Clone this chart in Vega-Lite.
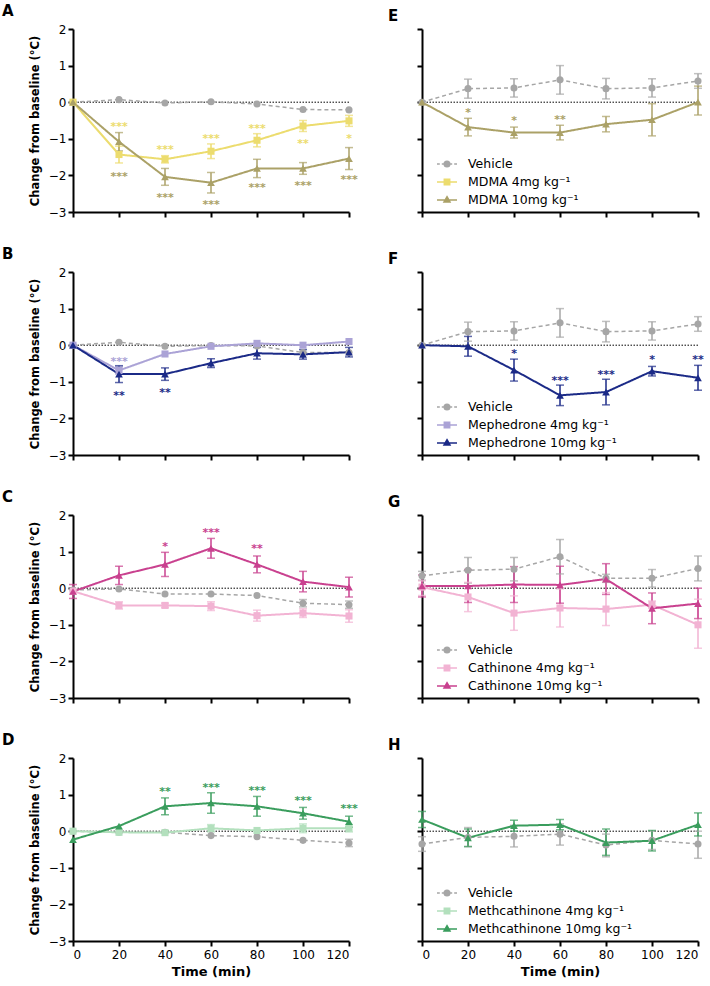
{
"$schema": "https://vega.github.io/schema/vega-lite/v6.json",
"background": "white",
"padding": {"left": 2, "top": 4, "right": 2, "bottom": 2},
"columns": 2,
"spacing": {"row": 29, "column": 30},
"resolve": {"scale": {"fill": "independent", "stroke": "independent", "shape": "independent"}},
"datasets": {"d": [
{"p":"A","s":"Vehicle","t":0,"m":0},{"p":"A","s":"Vehicle","t":20,"m":0.07},{"p":"A","s":"Vehicle","t":40,"m":-0.02},{"p":"A","s":"Vehicle","t":60,"m":0.01},{"p":"A","s":"Vehicle","t":80,"m":-0.05},{"p":"A","s":"Vehicle","t":100,"m":-0.2},{"p":"A","s":"Vehicle","t":120,"m":-0.21},
{"p":"A","s":"MDMA 4mg kg\u207b\u00b9","t":0,"m":0},
{"p":"A","s":"MDMA 4mg kg\u207b\u00b9","t":20,"m":-1.43,"lo":-1.66,"hi":-1.2,"st":"***","sy":-0.6},
{"p":"A","s":"MDMA 4mg kg\u207b\u00b9","t":40,"m":-1.56,"lo":-1.66,"hi":-1.46,"st":"***","sy":-1.22},
{"p":"A","s":"MDMA 4mg kg\u207b\u00b9","t":60,"m":-1.34,"lo":-1.54,"hi":-1.14,"st":"***","sy":-0.93},
{"p":"A","s":"MDMA 4mg kg\u207b\u00b9","t":80,"m":-1.04,"lo":-1.22,"hi":-0.86,"st":"***","sy":-0.65},
{"p":"A","s":"MDMA 4mg kg\u207b\u00b9","t":100,"m":-0.65,"lo":-0.8,"hi":-0.5,"st":"**","sy":-1.06},
{"p":"A","s":"MDMA 4mg kg\u207b\u00b9","t":120,"m":-0.51,"lo":-0.66,"hi":-0.36,"st":"*","sy":-0.93},
{"p":"A","s":"MDMA 10mg kg\u207b\u00b9","t":0,"m":0},
{"p":"A","s":"MDMA 10mg kg\u207b\u00b9","t":20,"m":-1.08,"lo":-1.33,"hi":-0.83,"st":"***","sy":-1.95},
{"p":"A","s":"MDMA 10mg kg\u207b\u00b9","t":40,"m":-2.04,"lo":-2.27,"hi":-1.81,"st":"***","sy":-2.54},
{"p":"A","s":"MDMA 10mg kg\u207b\u00b9","t":60,"m":-2.2,"lo":-2.48,"hi":-1.92,"st":"***","sy":-2.73},
{"p":"A","s":"MDMA 10mg kg\u207b\u00b9","t":80,"m":-1.81,"lo":-2.06,"hi":-1.56,"st":"***","sy":-2.27},
{"p":"A","s":"MDMA 10mg kg\u207b\u00b9","t":100,"m":-1.81,"lo":-1.97,"hi":-1.65,"st":"***","sy":-2.22},
{"p":"A","s":"MDMA 10mg kg\u207b\u00b9","t":120,"m":-1.54,"lo":-1.84,"hi":-1.24,"st":"***","sy":-2.05},
{"p":"E","s":"Vehicle","t":0,"m":0},
{"p":"E","s":"Vehicle","t":20,"m":0.37,"lo":0.11,"hi":0.63},
{"p":"E","s":"Vehicle","t":40,"m":0.39,"lo":0.14,"hi":0.64},
{"p":"E","s":"Vehicle","t":60,"m":0.61,"lo":0.22,"hi":1.0},
{"p":"E","s":"Vehicle","t":80,"m":0.37,"lo":0.09,"hi":0.65},
{"p":"E","s":"Vehicle","t":100,"m":0.39,"lo":0.14,"hi":0.64},
{"p":"E","s":"Vehicle","t":120,"m":0.58,"lo":0.38,"hi":0.78},
{"p":"E","s":"MDMA 10mg kg\u207b\u00b9","t":0,"m":0},
{"p":"E","s":"MDMA 10mg kg\u207b\u00b9","t":20,"m":-0.68,"lo":-0.92,"hi":-0.44,"st":"*","sy":-0.21},
{"p":"E","s":"MDMA 10mg kg\u207b\u00b9","t":40,"m":-0.83,"lo":-0.98,"hi":-0.68,"st":"*","sy":-0.44},
{"p":"E","s":"MDMA 10mg kg\u207b\u00b9","t":60,"m":-0.83,"lo":-1.03,"hi":-0.63,"st":"**","sy":-0.41},
{"p":"E","s":"MDMA 10mg kg\u207b\u00b9","t":80,"m":-0.6,"lo":-0.81,"hi":-0.39},
{"p":"E","s":"MDMA 10mg kg\u207b\u00b9","t":100,"m":-0.48,"lo":-0.92,"hi":-0.04},
{"p":"E","s":"MDMA 10mg kg\u207b\u00b9","t":120,"m":0,"lo":-0.35,"hi":0.44},
{"p":"B","s":"Vehicle","t":0,"m":0},{"p":"B","s":"Vehicle","t":20,"m":0.08},{"p":"B","s":"Vehicle","t":40,"m":-0.03},{"p":"B","s":"Vehicle","t":60,"m":-0.01},{"p":"B","s":"Vehicle","t":80,"m":-0.02},{"p":"B","s":"Vehicle","t":100,"m":-0.2},{"p":"B","s":"Vehicle","t":120,"m":-0.2},
{"p":"B","s":"Mephedrone 4mg kg\u207b\u00b9","t":0,"m":0},
{"p":"B","s":"Mephedrone 4mg kg\u207b\u00b9","t":20,"m":-0.69,"lo":-0.79,"hi":-0.59,"st":"***","sy":-0.37},
{"p":"B","s":"Mephedrone 4mg kg\u207b\u00b9","t":40,"m":-0.24},
{"p":"B","s":"Mephedrone 4mg kg\u207b\u00b9","t":60,"m":-0.03},
{"p":"B","s":"Mephedrone 4mg kg\u207b\u00b9","t":80,"m":0.05},
{"p":"B","s":"Mephedrone 4mg kg\u207b\u00b9","t":100,"m":0},
{"p":"B","s":"Mephedrone 4mg kg\u207b\u00b9","t":120,"m":0.1},
{"p":"B","s":"Mephedrone 10mg kg\u207b\u00b9","t":0,"m":0},
{"p":"B","s":"Mephedrone 10mg kg\u207b\u00b9","t":20,"m":-0.79,"lo":-1.02,"hi":-0.56,"st":"**","sy":-1.3},
{"p":"B","s":"Mephedrone 10mg kg\u207b\u00b9","t":40,"m":-0.79,"lo":-0.96,"hi":-0.62,"st":"**","sy":-1.22},
{"p":"B","s":"Mephedrone 10mg kg\u207b\u00b9","t":60,"m":-0.49,"lo":-0.61,"hi":-0.37},
{"p":"B","s":"Mephedrone 10mg kg\u207b\u00b9","t":80,"m":-0.22,"lo":-0.38,"hi":-0.06},
{"p":"B","s":"Mephedrone 10mg kg\u207b\u00b9","t":100,"m":-0.25,"lo":-0.38,"hi":-0.12},
{"p":"B","s":"Mephedrone 10mg kg\u207b\u00b9","t":120,"m":-0.19,"lo":-0.32,"hi":-0.06},
{"p":"F","s":"Vehicle","t":0,"m":0},
{"p":"F","s":"Vehicle","t":20,"m":0.37,"lo":0.11,"hi":0.63},
{"p":"F","s":"Vehicle","t":40,"m":0.39,"lo":0.14,"hi":0.64},
{"p":"F","s":"Vehicle","t":60,"m":0.61,"lo":0.22,"hi":1.0},
{"p":"F","s":"Vehicle","t":80,"m":0.37,"lo":0.09,"hi":0.65},
{"p":"F","s":"Vehicle","t":100,"m":0.39,"lo":0.14,"hi":0.64},
{"p":"F","s":"Vehicle","t":120,"m":0.58,"lo":0.38,"hi":0.78},
{"p":"F","s":"Mephedrone 10mg kg\u207b\u00b9","t":0,"m":0},
{"p":"F","s":"Mephedrone 10mg kg\u207b\u00b9","t":20,"m":-0.03,"lo":-0.3,"hi":0.24},
{"p":"F","s":"Mephedrone 10mg kg\u207b\u00b9","t":40,"m":-0.68,"lo":-0.98,"hi":-0.38,"st":"*","sy":-0.16},
{"p":"F","s":"Mephedrone 10mg kg\u207b\u00b9","t":60,"m":-1.37,"lo":-1.65,"hi":-1.09,"st":"***","sy":-0.89},
{"p":"F","s":"Mephedrone 10mg kg\u207b\u00b9","t":80,"m":-1.28,"lo":-1.63,"hi":-0.93,"st":"***","sy":-0.73},
{"p":"F","s":"Mephedrone 10mg kg\u207b\u00b9","t":100,"m":-0.71,"lo":-0.84,"hi":-0.58,"st":"*","sy":-0.32},
{"p":"F","s":"Mephedrone 10mg kg\u207b\u00b9","t":120,"m":-0.89,"lo":-1.23,"hi":-0.55,"st":"**","sy":-0.32},
{"p":"C","s":"Vehicle","t":0,"m":-0.05},{"p":"C","s":"Vehicle","t":20,"m":-0.02},{"p":"C","s":"Vehicle","t":40,"m":-0.16},{"p":"C","s":"Vehicle","t":60,"m":-0.16},{"p":"C","s":"Vehicle","t":80,"m":-0.2},
{"p":"C","s":"Vehicle","t":100,"m":-0.41,"lo":-0.51,"hi":-0.31},
{"p":"C","s":"Vehicle","t":120,"m":-0.45,"lo":-0.55,"hi":-0.35},
{"p":"C","s":"Cathinone 4mg kg\u207b\u00b9","t":0,"m":-0.08},
{"p":"C","s":"Cathinone 4mg kg\u207b\u00b9","t":20,"m":-0.47,"lo":-0.57,"hi":-0.37},
{"p":"C","s":"Cathinone 4mg kg\u207b\u00b9","t":40,"m":-0.47,"lo":-0.53,"hi":-0.41},
{"p":"C","s":"Cathinone 4mg kg\u207b\u00b9","t":60,"m":-0.49,"lo":-0.61,"hi":-0.37},
{"p":"C","s":"Cathinone 4mg kg\u207b\u00b9","t":80,"m":-0.75,"lo":-0.9,"hi":-0.6},
{"p":"C","s":"Cathinone 4mg kg\u207b\u00b9","t":100,"m":-0.68,"lo":-0.8,"hi":-0.56},
{"p":"C","s":"Cathinone 4mg kg\u207b\u00b9","t":120,"m":-0.76,"lo":-0.93,"hi":-0.59},
{"p":"C","s":"Cathinone 10mg kg\u207b\u00b9","t":0,"m":-0.09,"lo":-0.28,"hi":0.1},
{"p":"C","s":"Cathinone 10mg kg\u207b\u00b9","t":20,"m":0.35,"lo":0.1,"hi":0.6},
{"p":"C","s":"Cathinone 10mg kg\u207b\u00b9","t":40,"m":0.65,"lo":0.32,"hi":0.98,"st":"*","sy":1.21},
{"p":"C","s":"Cathinone 10mg kg\u207b\u00b9","t":60,"m":1.09,"lo":0.82,"hi":1.36,"st":"***","sy":1.6},
{"p":"C","s":"Cathinone 10mg kg\u207b\u00b9","t":80,"m":0.65,"lo":0.42,"hi":0.88,"st":"**","sy":1.15},
{"p":"C","s":"Cathinone 10mg kg\u207b\u00b9","t":100,"m":0.18,"lo":-0.1,"hi":0.46},
{"p":"C","s":"Cathinone 10mg kg\u207b\u00b9","t":120,"m":0.03,"lo":-0.24,"hi":0.3},
{"p":"G","s":"Vehicle","t":0,"m":0.34,"lo":0.22,"hi":0.46},
{"p":"G","s":"Vehicle","t":20,"m":0.49,"lo":0.14,"hi":0.84},
{"p":"G","s":"Vehicle","t":40,"m":0.52,"lo":0.2,"hi":0.84},
{"p":"G","s":"Vehicle","t":60,"m":0.86,"lo":0.39,"hi":1.33},
{"p":"G","s":"Vehicle","t":80,"m":0.27,"lo":0.16,"hi":0.38},
{"p":"G","s":"Vehicle","t":100,"m":0.27,"lo":0.03,"hi":0.51},
{"p":"G","s":"Vehicle","t":120,"m":0.54,"lo":0.2,"hi":0.88},
{"p":"G","s":"Cathinone 4mg kg\u207b\u00b9","t":0,"m":0.03,"lo":-0.2,"hi":0.2},
{"p":"G","s":"Cathinone 4mg kg\u207b\u00b9","t":20,"m":-0.24,"lo":-0.64,"hi":0.16},
{"p":"G","s":"Cathinone 4mg kg\u207b\u00b9","t":40,"m":-0.68,"lo":-1.15,"hi":-0.21},
{"p":"G","s":"Cathinone 4mg kg\u207b\u00b9","t":60,"m":-0.54,"lo":-1.06,"hi":-0.02},
{"p":"G","s":"Cathinone 4mg kg\u207b\u00b9","t":80,"m":-0.57,"lo":-1.02,"hi":-0.12},
{"p":"G","s":"Cathinone 4mg kg\u207b\u00b9","t":100,"m":-0.45,"lo":-0.55,"hi":-0.35},
{"p":"G","s":"Cathinone 4mg kg\u207b\u00b9","t":120,"m":-1.0,"lo":-1.64,"hi":-0.3},
{"p":"G","s":"Cathinone 10mg kg\u207b\u00b9","t":0,"m":0.06,"lo":-0.24,"hi":0.36},
{"p":"G","s":"Cathinone 10mg kg\u207b\u00b9","t":20,"m":0.06,"lo":-0.39,"hi":0.51},
{"p":"G","s":"Cathinone 10mg kg\u207b\u00b9","t":40,"m":0.1,"lo":-0.39,"hi":0.59},
{"p":"G","s":"Cathinone 10mg kg\u207b\u00b9","t":60,"m":0.09,"lo":-0.41,"hi":0.6},
{"p":"G","s":"Cathinone 10mg kg\u207b\u00b9","t":80,"m":0.25,"lo":-0.17,"hi":0.67},
{"p":"G","s":"Cathinone 10mg kg\u207b\u00b9","t":100,"m":-0.55,"lo":-0.97,"hi":-0.13},
{"p":"G","s":"Cathinone 10mg kg\u207b\u00b9","t":120,"m":-0.42,"lo":-0.83,"hi":0},
{"p":"D","s":"Vehicle","t":0,"m":0},{"p":"D","s":"Vehicle","t":20,"m":-0.03},{"p":"D","s":"Vehicle","t":40,"m":-0.03},{"p":"D","s":"Vehicle","t":60,"m":-0.12},{"p":"D","s":"Vehicle","t":80,"m":-0.15},{"p":"D","s":"Vehicle","t":100,"m":-0.25},
{"p":"D","s":"Vehicle","t":120,"m":-0.32,"lo":-0.42,"hi":-0.22},
{"p":"D","s":"Methcathinone 4mg kg\u207b\u00b9","t":0,"m":0},
{"p":"D","s":"Methcathinone 4mg kg\u207b\u00b9","t":20,"m":-0.03},
{"p":"D","s":"Methcathinone 4mg kg\u207b\u00b9","t":40,"m":-0.04},
{"p":"D","s":"Methcathinone 4mg kg\u207b\u00b9","t":60,"m":0.08,"lo":-0.02,"hi":0.18},
{"p":"D","s":"Methcathinone 4mg kg\u207b\u00b9","t":80,"m":0.02},
{"p":"D","s":"Methcathinone 4mg kg\u207b\u00b9","t":100,"m":0.08,"lo":-0.04,"hi":0.2},
{"p":"D","s":"Methcathinone 4mg kg\u207b\u00b9","t":120,"m":0.08,"lo":-0.02,"hi":0.18},
{"p":"D","s":"Methcathinone 10mg kg\u207b\u00b9","t":0,"m":-0.23},
{"p":"D","s":"Methcathinone 10mg kg\u207b\u00b9","t":20,"m":0.14},
{"p":"D","s":"Methcathinone 10mg kg\u207b\u00b9","t":40,"m":0.68,"lo":0.45,"hi":0.91,"st":"**","sy":1.15},
{"p":"D","s":"Methcathinone 10mg kg\u207b\u00b9","t":60,"m":0.77,"lo":0.49,"hi":1.05,"st":"***","sy":1.27},
{"p":"D","s":"Methcathinone 10mg kg\u207b\u00b9","t":80,"m":0.68,"lo":0.41,"hi":0.95,"st":"***","sy":1.19},
{"p":"D","s":"Methcathinone 10mg kg\u207b\u00b9","t":100,"m":0.49,"lo":0.33,"hi":0.65,"st":"***","sy":0.92},
{"p":"D","s":"Methcathinone 10mg kg\u207b\u00b9","t":120,"m":0.26,"lo":0.11,"hi":0.41,"st":"***","sy":0.7},
{"p":"H","s":"Vehicle","t":0,"m":-0.35,"lo":-0.55,"hi":-0.15},
{"p":"H","s":"Vehicle","t":20,"m":-0.17,"lo":-0.42,"hi":0.1},
{"p":"H","s":"Vehicle","t":40,"m":-0.14,"lo":-0.43,"hi":0.16},
{"p":"H","s":"Vehicle","t":60,"m":-0.08,"lo":-0.38,"hi":0.2},
{"p":"H","s":"Vehicle","t":80,"m":-0.38,"lo":-0.7,"hi":-0.08},
{"p":"H","s":"Vehicle","t":100,"m":-0.25,"lo":-0.5,"hi":0},
{"p":"H","s":"Vehicle","t":120,"m":-0.35,"lo":-0.74,"hi":0},
{"p":"H","s":"Methcathinone 10mg kg\u207b\u00b9","t":0,"m":0.32,"lo":0.1,"hi":0.54},
{"p":"H","s":"Methcathinone 10mg kg\u207b\u00b9","t":20,"m":-0.18,"lo":-0.42,"hi":0.06},
{"p":"H","s":"Methcathinone 10mg kg\u207b\u00b9","t":40,"m":0.15,"lo":0,"hi":0.3},
{"p":"H","s":"Methcathinone 10mg kg\u207b\u00b9","t":60,"m":0.18,"lo":0.04,"hi":0.32},
{"p":"H","s":"Methcathinone 10mg kg\u207b\u00b9","t":80,"m":-0.31,"lo":-0.66,"hi":0.06},
{"p":"H","s":"Methcathinone 10mg kg\u207b\u00b9","t":100,"m":-0.26,"lo":-0.54,"hi":0.02},
{"p":"H","s":"Methcathinone 10mg kg\u207b\u00b9","t":120,"m":0.18,"lo":-0.13,"hi":0.5}
]},
"concat": [
{"width":276,"height":183,"title":{"text":"A","dx":-71},
 "layer":[
  {"data":{"values":[{}]},"mark":{"type":"rule","color":"black","strokeWidth":1,"strokeDash":[1.5,1.5]},"encoding":{"y":{"datum":0,"type":"quantitative","scale":{"domain":[-3,2],"nice":false},"axis":{"title":"Change from baseline (°C)"}}}},
  {"data":{"name":"d"},"transform":[{"filter":"datum.p==='A'"}],
   "encoding":{"x":{"field":"t","type":"quantitative","scale":{"domain":[0,120],"nice":false},"axis":{"values":[0,20,40,60,80,100,120],"labels":false,"title":null}},
     "color":{"field":"s","type":"nominal","legend":null,"scale":{"domain":["Vehicle","MDMA 4mg kg\u207b\u00b9","MDMA 10mg kg\u207b\u00b9","Mephedrone 4mg kg\u207b\u00b9","Mephedrone 10mg kg\u207b\u00b9","Cathinone 4mg kg\u207b\u00b9","Cathinone 10mg kg\u207b\u00b9","Methcathinone 4mg kg\u207b\u00b9","Methcathinone 10mg kg\u207b\u00b9"],"range":["#a6a6a6","#ecdc6e","#aba167","#aba3d6","#1b2a87","#f2b3d3","#c9418f","#b3e0bd","#3a9d5d"]}}},
   "layer":[
    {"mark":{"type":"rule","strokeWidth":1.5},"encoding":{"y":{"field":"lo","type":"quantitative","scale":{"domain":[-3,2],"nice":false},"axis":{"title":"Change from baseline (°C)"}},"y2":{"field":"hi"}}},
    {"mark":{"type":"tick","orient":"horizontal","size":8,"thickness":1.5},"encoding":{"y":{"field":"lo","type":"quantitative","scale":{"domain":[-3,2],"nice":false},"axis":{"title":"Change from baseline (°C)"}}}},
    {"mark":{"type":"tick","orient":"horizontal","size":8,"thickness":1.5},"encoding":{"y":{"field":"hi","type":"quantitative","scale":{"domain":[-3,2],"nice":false},"axis":{"title":"Change from baseline (°C)"}}}},
    {"mark":{"type":"line"},"encoding":{"y":{"field":"m","type":"quantitative","scale":{"domain":[-3,2],"nice":false},"axis":{"title":"Change from baseline (°C)"}},"strokeDash":{"condition":{"test":"datum.s==='Vehicle'","value":[4,3]},"value":[1,0]},"strokeWidth":{"condition":{"test":"datum.s==='Vehicle'","value":1.5},"value":2}}},
    {"mark":{"type":"point","filled":true,"opacity":1},"encoding":{"y":{"field":"m","type":"quantitative","scale":{"domain":[-3,2],"nice":false},"axis":{"title":"Change from baseline (°C)"}},"shape":{"condition":[{"test":"datum.s==='Vehicle'","value":"circle"},{"test":"indexof(datum.s,' 4mg')>=0","value":"square"}],"value":"triangle-up"},"size":{"condition":{"test":"indexof(datum.s,'10mg')>=0","value":60},"value":50}}},
    {"mark":{"type":"text","fontWeight":"bold","fontSize":11,"dy":3},"encoding":{"y":{"field":"sy","type":"quantitative","scale":{"domain":[-3,2],"nice":false},"axis":{"title":"Change from baseline (°C)"}},"text":{"field":"st"}}}
   ]}
 ]},
{"width":276,"height":183,"title":{"text":"E","dx":-34},
 "layer":[
  {"data":{"values":[{}]},"mark":{"type":"rule","color":"black","strokeWidth":1,"strokeDash":[1.5,1.5]},"encoding":{"y":{"datum":0,"type":"quantitative","scale":{"domain":[-3,2],"nice":false},"axis":{"labels":false,"title":null}}}},
  {"data":{"name":"d"},"transform":[{"filter":"datum.p==='E'"}],
   "encoding":{"x":{"field":"t","type":"quantitative","scale":{"domain":[0,120],"nice":false},"axis":{"values":[0,20,40,60,80,100,120],"labels":false,"title":null}},
     "color":{"field":"s","type":"nominal","legend":null,"scale":{"domain":["Vehicle","MDMA 4mg kg\u207b\u00b9","MDMA 10mg kg\u207b\u00b9","Mephedrone 4mg kg\u207b\u00b9","Mephedrone 10mg kg\u207b\u00b9","Cathinone 4mg kg\u207b\u00b9","Cathinone 10mg kg\u207b\u00b9","Methcathinone 4mg kg\u207b\u00b9","Methcathinone 10mg kg\u207b\u00b9"],"range":["#a6a6a6","#ecdc6e","#aba167","#aba3d6","#1b2a87","#f2b3d3","#c9418f","#b3e0bd","#3a9d5d"]}}},
   "layer":[
    {"mark":{"type":"rule","strokeWidth":1.5},"encoding":{"y":{"field":"lo","type":"quantitative","scale":{"domain":[-3,2],"nice":false},"axis":{"labels":false,"title":null}},"y2":{"field":"hi"}}},
    {"mark":{"type":"tick","orient":"horizontal","size":8,"thickness":1.5},"encoding":{"y":{"field":"lo","type":"quantitative","scale":{"domain":[-3,2],"nice":false},"axis":{"labels":false,"title":null}}}},
    {"mark":{"type":"tick","orient":"horizontal","size":8,"thickness":1.5},"encoding":{"y":{"field":"hi","type":"quantitative","scale":{"domain":[-3,2],"nice":false},"axis":{"labels":false,"title":null}}}},
    {"mark":{"type":"line"},"encoding":{"y":{"field":"m","type":"quantitative","scale":{"domain":[-3,2],"nice":false},"axis":{"labels":false,"title":null}},"strokeDash":{"condition":{"test":"datum.s==='Vehicle'","value":[4,3]},"value":[1,0]},"strokeWidth":{"condition":{"test":"datum.s==='Vehicle'","value":1.5},"value":2}}},
    {"mark":{"type":"point","filled":true,"opacity":1},"encoding":{"y":{"field":"m","type":"quantitative","scale":{"domain":[-3,2],"nice":false},"axis":{"labels":false,"title":null}},"shape":{"condition":[{"test":"datum.s==='Vehicle'","value":"circle"},{"test":"indexof(datum.s,' 4mg')>=0","value":"square"}],"value":"triangle-up"},"size":{"condition":{"test":"indexof(datum.s,'10mg')>=0","value":60},"value":50}}},
    {"mark":{"type":"text","fontWeight":"bold","fontSize":11,"dy":3},"encoding":{"y":{"field":"sy","type":"quantitative","scale":{"domain":[-3,2],"nice":false},"axis":{"labels":false,"title":null}},"text":{"field":"st"}}},
    {"transform":[{"filter":"false"}],"mark":{"type":"point","filled":true,"opacity":1,"size":400,"strokeWidth":1.5},"encoding":{"y":{"field":"m","type":"quantitative","scale":{"domain":[-3,2],"nice":false},"axis":{"labels":false,"title":null}},
      "fill":{"field":"s","type":"nominal","scale":{"domain":["Vehicle","MDMA 4mg kg\u207b\u00b9","MDMA 10mg kg\u207b\u00b9"],"range":["#a6a6a6","#ecdc6e","#aba167"]},"legend":{"title":null,"orient":"none","legendX":14,"legendY":124}},
      "stroke":{"field":"s","type":"nominal","scale":{"domain":["Vehicle","MDMA 4mg kg\u207b\u00b9","MDMA 10mg kg\u207b\u00b9"],"range":["#a6a6a6","#ecdc6e","#aba167"]},"legend":{"title":null,"orient":"none","legendX":14,"legendY":124}},
      "shape":{"field":"s","type":"nominal","scale":{"domain":["Vehicle","MDMA 4mg kg\u207b\u00b9","MDMA 10mg kg\u207b\u00b9"],"range":["M-1,0H-0.72M-0.52,0H-0.32M0.32,0H0.52M0.72,0H1M0.28,0A0.28,0.28,0,1,1,-0.28,0A0.28,0.28,0,1,1,0.28,0Z","M-1,0H1M-0.27,-0.27H0.27V0.27H-0.27Z","M-1,0H1M0,-0.33L0.3,0.2H-0.3Z"]},"legend":{"title":null,"orient":"none","legendX":14,"legendY":124}}}}
   ]}
 ]},
{"width":276,"height":183,"title":{"text":"B","dx":-71},
 "layer":[
  {"data":{"values":[{}]},"mark":{"type":"rule","color":"black","strokeWidth":1,"strokeDash":[1.5,1.5]},"encoding":{"y":{"datum":0,"type":"quantitative","scale":{"domain":[-3,2],"nice":false},"axis":{"title":"Change from baseline (°C)"}}}},
  {"data":{"name":"d"},"transform":[{"filter":"datum.p==='B'"}],
   "encoding":{"x":{"field":"t","type":"quantitative","scale":{"domain":[0,120],"nice":false},"axis":{"values":[0,20,40,60,80,100,120],"labels":false,"title":null}},
     "color":{"field":"s","type":"nominal","legend":null,"scale":{"domain":["Vehicle","MDMA 4mg kg\u207b\u00b9","MDMA 10mg kg\u207b\u00b9","Mephedrone 4mg kg\u207b\u00b9","Mephedrone 10mg kg\u207b\u00b9","Cathinone 4mg kg\u207b\u00b9","Cathinone 10mg kg\u207b\u00b9","Methcathinone 4mg kg\u207b\u00b9","Methcathinone 10mg kg\u207b\u00b9"],"range":["#a6a6a6","#ecdc6e","#aba167","#aba3d6","#1b2a87","#f2b3d3","#c9418f","#b3e0bd","#3a9d5d"]}}},
   "layer":[
    {"mark":{"type":"rule","strokeWidth":1.5},"encoding":{"y":{"field":"lo","type":"quantitative","scale":{"domain":[-3,2],"nice":false},"axis":{"title":"Change from baseline (°C)"}},"y2":{"field":"hi"}}},
    {"mark":{"type":"tick","orient":"horizontal","size":8,"thickness":1.5},"encoding":{"y":{"field":"lo","type":"quantitative","scale":{"domain":[-3,2],"nice":false},"axis":{"title":"Change from baseline (°C)"}}}},
    {"mark":{"type":"tick","orient":"horizontal","size":8,"thickness":1.5},"encoding":{"y":{"field":"hi","type":"quantitative","scale":{"domain":[-3,2],"nice":false},"axis":{"title":"Change from baseline (°C)"}}}},
    {"mark":{"type":"line"},"encoding":{"y":{"field":"m","type":"quantitative","scale":{"domain":[-3,2],"nice":false},"axis":{"title":"Change from baseline (°C)"}},"strokeDash":{"condition":{"test":"datum.s==='Vehicle'","value":[4,3]},"value":[1,0]},"strokeWidth":{"condition":{"test":"datum.s==='Vehicle'","value":1.5},"value":2}}},
    {"mark":{"type":"point","filled":true,"opacity":1},"encoding":{"y":{"field":"m","type":"quantitative","scale":{"domain":[-3,2],"nice":false},"axis":{"title":"Change from baseline (°C)"}},"shape":{"condition":[{"test":"datum.s==='Vehicle'","value":"circle"},{"test":"indexof(datum.s,' 4mg')>=0","value":"square"}],"value":"triangle-up"},"size":{"condition":{"test":"indexof(datum.s,'10mg')>=0","value":60},"value":50}}},
    {"mark":{"type":"text","fontWeight":"bold","fontSize":11,"dy":3},"encoding":{"y":{"field":"sy","type":"quantitative","scale":{"domain":[-3,2],"nice":false},"axis":{"title":"Change from baseline (°C)"}},"text":{"field":"st"}}}
   ]}
 ]},
{"width":276,"height":183,"title":{"text":"F","dx":-34},
 "layer":[
  {"data":{"values":[{}]},"mark":{"type":"rule","color":"black","strokeWidth":1,"strokeDash":[1.5,1.5]},"encoding":{"y":{"datum":0,"type":"quantitative","scale":{"domain":[-3,2],"nice":false},"axis":{"labels":false,"title":null}}}},
  {"data":{"name":"d"},"transform":[{"filter":"datum.p==='F'"}],
   "encoding":{"x":{"field":"t","type":"quantitative","scale":{"domain":[0,120],"nice":false},"axis":{"values":[0,20,40,60,80,100,120],"labels":false,"title":null}},
     "color":{"field":"s","type":"nominal","legend":null,"scale":{"domain":["Vehicle","MDMA 4mg kg\u207b\u00b9","MDMA 10mg kg\u207b\u00b9","Mephedrone 4mg kg\u207b\u00b9","Mephedrone 10mg kg\u207b\u00b9","Cathinone 4mg kg\u207b\u00b9","Cathinone 10mg kg\u207b\u00b9","Methcathinone 4mg kg\u207b\u00b9","Methcathinone 10mg kg\u207b\u00b9"],"range":["#a6a6a6","#ecdc6e","#aba167","#aba3d6","#1b2a87","#f2b3d3","#c9418f","#b3e0bd","#3a9d5d"]}}},
   "layer":[
    {"mark":{"type":"rule","strokeWidth":1.5},"encoding":{"y":{"field":"lo","type":"quantitative","scale":{"domain":[-3,2],"nice":false},"axis":{"labels":false,"title":null}},"y2":{"field":"hi"}}},
    {"mark":{"type":"tick","orient":"horizontal","size":8,"thickness":1.5},"encoding":{"y":{"field":"lo","type":"quantitative","scale":{"domain":[-3,2],"nice":false},"axis":{"labels":false,"title":null}}}},
    {"mark":{"type":"tick","orient":"horizontal","size":8,"thickness":1.5},"encoding":{"y":{"field":"hi","type":"quantitative","scale":{"domain":[-3,2],"nice":false},"axis":{"labels":false,"title":null}}}},
    {"mark":{"type":"line"},"encoding":{"y":{"field":"m","type":"quantitative","scale":{"domain":[-3,2],"nice":false},"axis":{"labels":false,"title":null}},"strokeDash":{"condition":{"test":"datum.s==='Vehicle'","value":[4,3]},"value":[1,0]},"strokeWidth":{"condition":{"test":"datum.s==='Vehicle'","value":1.5},"value":2}}},
    {"mark":{"type":"point","filled":true,"opacity":1},"encoding":{"y":{"field":"m","type":"quantitative","scale":{"domain":[-3,2],"nice":false},"axis":{"labels":false,"title":null}},"shape":{"condition":[{"test":"datum.s==='Vehicle'","value":"circle"},{"test":"indexof(datum.s,' 4mg')>=0","value":"square"}],"value":"triangle-up"},"size":{"condition":{"test":"indexof(datum.s,'10mg')>=0","value":60},"value":50}}},
    {"mark":{"type":"text","fontWeight":"bold","fontSize":11,"dy":3},"encoding":{"y":{"field":"sy","type":"quantitative","scale":{"domain":[-3,2],"nice":false},"axis":{"labels":false,"title":null}},"text":{"field":"st"}}},
    {"transform":[{"filter":"false"}],"mark":{"type":"point","filled":true,"opacity":1,"size":400,"strokeWidth":1.5},"encoding":{"y":{"field":"m","type":"quantitative","scale":{"domain":[-3,2],"nice":false},"axis":{"labels":false,"title":null}},
      "fill":{"field":"s","type":"nominal","scale":{"domain":["Vehicle","Mephedrone 4mg kg\u207b\u00b9","Mephedrone 10mg kg\u207b\u00b9"],"range":["#a6a6a6","#aba3d6","#1b2a87"]},"legend":{"title":null,"orient":"none","legendX":14,"legendY":124}},
      "stroke":{"field":"s","type":"nominal","scale":{"domain":["Vehicle","Mephedrone 4mg kg\u207b\u00b9","Mephedrone 10mg kg\u207b\u00b9"],"range":["#a6a6a6","#aba3d6","#1b2a87"]},"legend":{"title":null,"orient":"none","legendX":14,"legendY":124}},
      "shape":{"field":"s","type":"nominal","scale":{"domain":["Vehicle","Mephedrone 4mg kg\u207b\u00b9","Mephedrone 10mg kg\u207b\u00b9"],"range":["M-1,0H-0.72M-0.52,0H-0.32M0.32,0H0.52M0.72,0H1M0.28,0A0.28,0.28,0,1,1,-0.28,0A0.28,0.28,0,1,1,0.28,0Z","M-1,0H1M-0.27,-0.27H0.27V0.27H-0.27Z","M-1,0H1M0,-0.33L0.3,0.2H-0.3Z"]},"legend":{"title":null,"orient":"none","legendX":14,"legendY":124}}}}
   ]}
 ]},
{"width":276,"height":183,"title":{"text":"C","dx":-71},
 "layer":[
  {"data":{"values":[{}]},"mark":{"type":"rule","color":"black","strokeWidth":1,"strokeDash":[1.5,1.5]},"encoding":{"y":{"datum":0,"type":"quantitative","scale":{"domain":[-3,2],"nice":false},"axis":{"title":"Change from baseline (°C)"}}}},
  {"data":{"name":"d"},"transform":[{"filter":"datum.p==='C'"}],
   "encoding":{"x":{"field":"t","type":"quantitative","scale":{"domain":[0,120],"nice":false},"axis":{"values":[0,20,40,60,80,100,120],"labels":false,"title":null}},
     "color":{"field":"s","type":"nominal","legend":null,"scale":{"domain":["Vehicle","MDMA 4mg kg\u207b\u00b9","MDMA 10mg kg\u207b\u00b9","Mephedrone 4mg kg\u207b\u00b9","Mephedrone 10mg kg\u207b\u00b9","Cathinone 4mg kg\u207b\u00b9","Cathinone 10mg kg\u207b\u00b9","Methcathinone 4mg kg\u207b\u00b9","Methcathinone 10mg kg\u207b\u00b9"],"range":["#a6a6a6","#ecdc6e","#aba167","#aba3d6","#1b2a87","#f2b3d3","#c9418f","#b3e0bd","#3a9d5d"]}}},
   "layer":[
    {"mark":{"type":"rule","strokeWidth":1.5},"encoding":{"y":{"field":"lo","type":"quantitative","scale":{"domain":[-3,2],"nice":false},"axis":{"title":"Change from baseline (°C)"}},"y2":{"field":"hi"}}},
    {"mark":{"type":"tick","orient":"horizontal","size":8,"thickness":1.5},"encoding":{"y":{"field":"lo","type":"quantitative","scale":{"domain":[-3,2],"nice":false},"axis":{"title":"Change from baseline (°C)"}}}},
    {"mark":{"type":"tick","orient":"horizontal","size":8,"thickness":1.5},"encoding":{"y":{"field":"hi","type":"quantitative","scale":{"domain":[-3,2],"nice":false},"axis":{"title":"Change from baseline (°C)"}}}},
    {"mark":{"type":"line"},"encoding":{"y":{"field":"m","type":"quantitative","scale":{"domain":[-3,2],"nice":false},"axis":{"title":"Change from baseline (°C)"}},"strokeDash":{"condition":{"test":"datum.s==='Vehicle'","value":[4,3]},"value":[1,0]},"strokeWidth":{"condition":{"test":"datum.s==='Vehicle'","value":1.5},"value":2}}},
    {"mark":{"type":"point","filled":true,"opacity":1},"encoding":{"y":{"field":"m","type":"quantitative","scale":{"domain":[-3,2],"nice":false},"axis":{"title":"Change from baseline (°C)"}},"shape":{"condition":[{"test":"datum.s==='Vehicle'","value":"circle"},{"test":"indexof(datum.s,' 4mg')>=0","value":"square"}],"value":"triangle-up"},"size":{"condition":{"test":"indexof(datum.s,'10mg')>=0","value":60},"value":50}}},
    {"mark":{"type":"text","fontWeight":"bold","fontSize":11,"dy":3},"encoding":{"y":{"field":"sy","type":"quantitative","scale":{"domain":[-3,2],"nice":false},"axis":{"title":"Change from baseline (°C)"}},"text":{"field":"st"}}}
   ]}
 ]},
{"width":276,"height":183,"title":{"text":"G","dx":-34},
 "layer":[
  {"data":{"values":[{}]},"mark":{"type":"rule","color":"black","strokeWidth":1,"strokeDash":[1.5,1.5]},"encoding":{"y":{"datum":0,"type":"quantitative","scale":{"domain":[-3,2],"nice":false},"axis":{"labels":false,"title":null}}}},
  {"data":{"name":"d"},"transform":[{"filter":"datum.p==='G'"}],
   "encoding":{"x":{"field":"t","type":"quantitative","scale":{"domain":[0,120],"nice":false},"axis":{"values":[0,20,40,60,80,100,120],"labels":false,"title":null}},
     "color":{"field":"s","type":"nominal","legend":null,"scale":{"domain":["Vehicle","MDMA 4mg kg\u207b\u00b9","MDMA 10mg kg\u207b\u00b9","Mephedrone 4mg kg\u207b\u00b9","Mephedrone 10mg kg\u207b\u00b9","Cathinone 4mg kg\u207b\u00b9","Cathinone 10mg kg\u207b\u00b9","Methcathinone 4mg kg\u207b\u00b9","Methcathinone 10mg kg\u207b\u00b9"],"range":["#a6a6a6","#ecdc6e","#aba167","#aba3d6","#1b2a87","#f2b3d3","#c9418f","#b3e0bd","#3a9d5d"]}}},
   "layer":[
    {"mark":{"type":"rule","strokeWidth":1.5},"encoding":{"y":{"field":"lo","type":"quantitative","scale":{"domain":[-3,2],"nice":false},"axis":{"labels":false,"title":null}},"y2":{"field":"hi"}}},
    {"mark":{"type":"tick","orient":"horizontal","size":8,"thickness":1.5},"encoding":{"y":{"field":"lo","type":"quantitative","scale":{"domain":[-3,2],"nice":false},"axis":{"labels":false,"title":null}}}},
    {"mark":{"type":"tick","orient":"horizontal","size":8,"thickness":1.5},"encoding":{"y":{"field":"hi","type":"quantitative","scale":{"domain":[-3,2],"nice":false},"axis":{"labels":false,"title":null}}}},
    {"mark":{"type":"line"},"encoding":{"y":{"field":"m","type":"quantitative","scale":{"domain":[-3,2],"nice":false},"axis":{"labels":false,"title":null}},"strokeDash":{"condition":{"test":"datum.s==='Vehicle'","value":[4,3]},"value":[1,0]},"strokeWidth":{"condition":{"test":"datum.s==='Vehicle'","value":1.5},"value":2}}},
    {"mark":{"type":"point","filled":true,"opacity":1},"encoding":{"y":{"field":"m","type":"quantitative","scale":{"domain":[-3,2],"nice":false},"axis":{"labels":false,"title":null}},"shape":{"condition":[{"test":"datum.s==='Vehicle'","value":"circle"},{"test":"indexof(datum.s,' 4mg')>=0","value":"square"}],"value":"triangle-up"},"size":{"condition":{"test":"indexof(datum.s,'10mg')>=0","value":60},"value":50}}},
    {"mark":{"type":"text","fontWeight":"bold","fontSize":11,"dy":3},"encoding":{"y":{"field":"sy","type":"quantitative","scale":{"domain":[-3,2],"nice":false},"axis":{"labels":false,"title":null}},"text":{"field":"st"}}},
    {"transform":[{"filter":"false"}],"mark":{"type":"point","filled":true,"opacity":1,"size":400,"strokeWidth":1.5},"encoding":{"y":{"field":"m","type":"quantitative","scale":{"domain":[-3,2],"nice":false},"axis":{"labels":false,"title":null}},
      "fill":{"field":"s","type":"nominal","scale":{"domain":["Vehicle","Cathinone 4mg kg\u207b\u00b9","Cathinone 10mg kg\u207b\u00b9"],"range":["#a6a6a6","#f2b3d3","#c9418f"]},"legend":{"title":null,"orient":"none","legendX":14,"legendY":124}},
      "stroke":{"field":"s","type":"nominal","scale":{"domain":["Vehicle","Cathinone 4mg kg\u207b\u00b9","Cathinone 10mg kg\u207b\u00b9"],"range":["#a6a6a6","#f2b3d3","#c9418f"]},"legend":{"title":null,"orient":"none","legendX":14,"legendY":124}},
      "shape":{"field":"s","type":"nominal","scale":{"domain":["Vehicle","Cathinone 4mg kg\u207b\u00b9","Cathinone 10mg kg\u207b\u00b9"],"range":["M-1,0H-0.72M-0.52,0H-0.32M0.32,0H0.52M0.72,0H1M0.28,0A0.28,0.28,0,1,1,-0.28,0A0.28,0.28,0,1,1,0.28,0Z","M-1,0H1M-0.27,-0.27H0.27V0.27H-0.27Z","M-1,0H1M0,-0.33L0.3,0.2H-0.3Z"]},"legend":{"title":null,"orient":"none","legendX":14,"legendY":124}}}}
   ]}
 ]},
{"width":276,"height":183,"title":{"text":"D","dx":-71},
 "layer":[
  {"data":{"values":[{}]},"mark":{"type":"rule","color":"black","strokeWidth":1,"strokeDash":[1.5,1.5]},"encoding":{"y":{"datum":0,"type":"quantitative","scale":{"domain":[-3,2],"nice":false},"axis":{"title":"Change from baseline (°C)"}}}},
  {"data":{"name":"d"},"transform":[{"filter":"datum.p==='D'"}],
   "encoding":{"x":{"field":"t","type":"quantitative","scale":{"domain":[0,120],"nice":false},"axis":{"values":[0,20,40,60,80,100,120],"title":"Time (min)"}},
     "color":{"field":"s","type":"nominal","legend":null,"scale":{"domain":["Vehicle","MDMA 4mg kg\u207b\u00b9","MDMA 10mg kg\u207b\u00b9","Mephedrone 4mg kg\u207b\u00b9","Mephedrone 10mg kg\u207b\u00b9","Cathinone 4mg kg\u207b\u00b9","Cathinone 10mg kg\u207b\u00b9","Methcathinone 4mg kg\u207b\u00b9","Methcathinone 10mg kg\u207b\u00b9"],"range":["#a6a6a6","#ecdc6e","#aba167","#aba3d6","#1b2a87","#f2b3d3","#c9418f","#b3e0bd","#3a9d5d"]}}},
   "layer":[
    {"mark":{"type":"rule","strokeWidth":1.5},"encoding":{"y":{"field":"lo","type":"quantitative","scale":{"domain":[-3,2],"nice":false},"axis":{"title":"Change from baseline (°C)"}},"y2":{"field":"hi"}}},
    {"mark":{"type":"tick","orient":"horizontal","size":8,"thickness":1.5},"encoding":{"y":{"field":"lo","type":"quantitative","scale":{"domain":[-3,2],"nice":false},"axis":{"title":"Change from baseline (°C)"}}}},
    {"mark":{"type":"tick","orient":"horizontal","size":8,"thickness":1.5},"encoding":{"y":{"field":"hi","type":"quantitative","scale":{"domain":[-3,2],"nice":false},"axis":{"title":"Change from baseline (°C)"}}}},
    {"mark":{"type":"line"},"encoding":{"y":{"field":"m","type":"quantitative","scale":{"domain":[-3,2],"nice":false},"axis":{"title":"Change from baseline (°C)"}},"strokeDash":{"condition":{"test":"datum.s==='Vehicle'","value":[4,3]},"value":[1,0]},"strokeWidth":{"condition":{"test":"datum.s==='Vehicle'","value":1.5},"value":2}}},
    {"mark":{"type":"point","filled":true,"opacity":1},"encoding":{"y":{"field":"m","type":"quantitative","scale":{"domain":[-3,2],"nice":false},"axis":{"title":"Change from baseline (°C)"}},"shape":{"condition":[{"test":"datum.s==='Vehicle'","value":"circle"},{"test":"indexof(datum.s,' 4mg')>=0","value":"square"}],"value":"triangle-up"},"size":{"condition":{"test":"indexof(datum.s,'10mg')>=0","value":60},"value":50}}},
    {"mark":{"type":"text","fontWeight":"bold","fontSize":11,"dy":3},"encoding":{"y":{"field":"sy","type":"quantitative","scale":{"domain":[-3,2],"nice":false},"axis":{"title":"Change from baseline (°C)"}},"text":{"field":"st"}}}
   ]}
 ]},
{"width":276,"height":183,"title":{"text":"H","dx":-34},
 "layer":[
  {"data":{"values":[{}]},"mark":{"type":"rule","color":"black","strokeWidth":1,"strokeDash":[1.5,1.5]},"encoding":{"y":{"datum":0,"type":"quantitative","scale":{"domain":[-3,2],"nice":false},"axis":{"labels":false,"title":null}}}},
  {"data":{"name":"d"},"transform":[{"filter":"datum.p==='H'"}],
   "encoding":{"x":{"field":"t","type":"quantitative","scale":{"domain":[0,120],"nice":false},"axis":{"values":[0,20,40,60,80,100,120],"title":"Time (min)"}},
     "color":{"field":"s","type":"nominal","legend":null,"scale":{"domain":["Vehicle","MDMA 4mg kg\u207b\u00b9","MDMA 10mg kg\u207b\u00b9","Mephedrone 4mg kg\u207b\u00b9","Mephedrone 10mg kg\u207b\u00b9","Cathinone 4mg kg\u207b\u00b9","Cathinone 10mg kg\u207b\u00b9","Methcathinone 4mg kg\u207b\u00b9","Methcathinone 10mg kg\u207b\u00b9"],"range":["#a6a6a6","#ecdc6e","#aba167","#aba3d6","#1b2a87","#f2b3d3","#c9418f","#b3e0bd","#3a9d5d"]}}},
   "layer":[
    {"mark":{"type":"rule","strokeWidth":1.5},"encoding":{"y":{"field":"lo","type":"quantitative","scale":{"domain":[-3,2],"nice":false},"axis":{"labels":false,"title":null}},"y2":{"field":"hi"}}},
    {"mark":{"type":"tick","orient":"horizontal","size":8,"thickness":1.5},"encoding":{"y":{"field":"lo","type":"quantitative","scale":{"domain":[-3,2],"nice":false},"axis":{"labels":false,"title":null}}}},
    {"mark":{"type":"tick","orient":"horizontal","size":8,"thickness":1.5},"encoding":{"y":{"field":"hi","type":"quantitative","scale":{"domain":[-3,2],"nice":false},"axis":{"labels":false,"title":null}}}},
    {"mark":{"type":"line"},"encoding":{"y":{"field":"m","type":"quantitative","scale":{"domain":[-3,2],"nice":false},"axis":{"labels":false,"title":null}},"strokeDash":{"condition":{"test":"datum.s==='Vehicle'","value":[4,3]},"value":[1,0]},"strokeWidth":{"condition":{"test":"datum.s==='Vehicle'","value":1.5},"value":2}}},
    {"mark":{"type":"point","filled":true,"opacity":1},"encoding":{"y":{"field":"m","type":"quantitative","scale":{"domain":[-3,2],"nice":false},"axis":{"labels":false,"title":null}},"shape":{"condition":[{"test":"datum.s==='Vehicle'","value":"circle"},{"test":"indexof(datum.s,' 4mg')>=0","value":"square"}],"value":"triangle-up"},"size":{"condition":{"test":"indexof(datum.s,'10mg')>=0","value":60},"value":50}}},
    {"mark":{"type":"text","fontWeight":"bold","fontSize":11,"dy":3},"encoding":{"y":{"field":"sy","type":"quantitative","scale":{"domain":[-3,2],"nice":false},"axis":{"labels":false,"title":null}},"text":{"field":"st"}}},
    {"transform":[{"filter":"false"}],"mark":{"type":"point","filled":true,"opacity":1,"size":400,"strokeWidth":1.5},"encoding":{"y":{"field":"m","type":"quantitative","scale":{"domain":[-3,2],"nice":false},"axis":{"labels":false,"title":null}},
      "fill":{"field":"s","type":"nominal","scale":{"domain":["Vehicle","Methcathinone 4mg kg\u207b\u00b9","Methcathinone 10mg kg\u207b\u00b9"],"range":["#a6a6a6","#b3e0bd","#3a9d5d"]},"legend":{"title":null,"orient":"none","legendX":14,"legendY":124}},
      "stroke":{"field":"s","type":"nominal","scale":{"domain":["Vehicle","Methcathinone 4mg kg\u207b\u00b9","Methcathinone 10mg kg\u207b\u00b9"],"range":["#a6a6a6","#b3e0bd","#3a9d5d"]},"legend":{"title":null,"orient":"none","legendX":14,"legendY":124}},
      "shape":{"field":"s","type":"nominal","scale":{"domain":["Vehicle","Methcathinone 4mg kg\u207b\u00b9","Methcathinone 10mg kg\u207b\u00b9"],"range":["M-1,0H-0.72M-0.52,0H-0.32M0.32,0H0.52M0.72,0H1M0.28,0A0.28,0.28,0,1,1,-0.28,0A0.28,0.28,0,1,1,0.28,0Z","M-1,0H1M-0.27,-0.27H0.27V0.27H-0.27Z","M-1,0H1M0,-0.33L0.3,0.2H-0.3Z"]},"legend":{"title":null,"orient":"none","legendX":14,"legendY":124}}}}
   ]}
 ]}
],
"config": {
 "view": {"stroke": null},
 "font": "DejaVu Sans",
 "axis": {"domainColor": "black", "domainWidth": 2, "tickColor": "black", "tickWidth": 2, "tickSize": 5, "grid": false, "labelFont": "DejaVu Sans", "labelFontSize": 12, "labelColor": "black", "labelPadding": 2, "titleFont": "DejaVu Sans", "titleFontSize": 11.5, "titleFontWeight": "bold", "titleColor": "black", "titlePadding": 8},
 "axisY": {"tickCount": 5},
 "axisX": {"labelPadding": 3, "titleFontSize": 13, "titlePadding": 5},
 "title": {"fontSize": 15, "fontWeight": "bold", "font": "DejaVu Sans", "anchor": "start", "frame": "group", "color": "black", "offset": 4},
 "legend": {"labelFont": "DejaVu Sans", "labelFontSize": 12.5, "labelColor": "black", "labelLimit": 300, "symbolSize": 400, "symbolStrokeWidth": 1.5, "symbolOpacity": 1, "rowPadding": -2, "labelOffset": 10, "padding": 0}
}
}
